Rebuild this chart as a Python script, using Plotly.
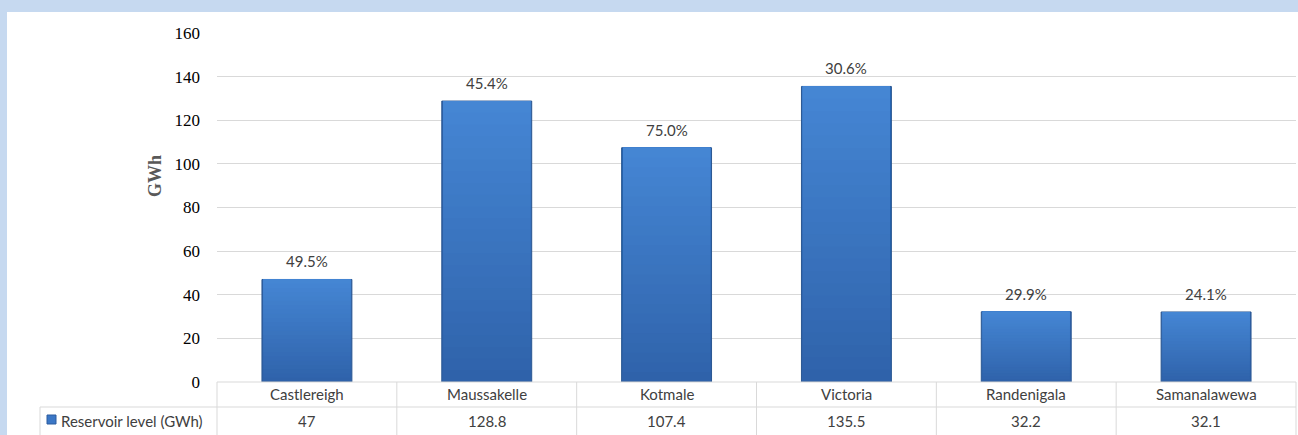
import plotly.graph_objects as go

categories = ["Castlereigh", "Maussakelle", "Kotmale", "Victoria", "Randenigala", "Samanalawewa"]
reservoir_gwh = [47, 128.8, 107.4, 135.5, 32.2, 32.1]
table_values = ["47", "128.8", "107.4", "135.5", "32.2", "32.1"]
percent_labels = ["49.5%", "45.4%", "75.0%", "30.6%", "29.9%", "24.1%"]
series_name = "Reservoir level (GWh)"
y_ticks = [0, 20, 40, 60, 80, 100, 120, 140, 160]

W, H = 1298, 435
L, R, T, B = 217, 2, 33, 53
pw = W - L - R
ph = H - T - B

def px2x(px):
    return (px - L) / pw

def py2y(py):
    return (H - B - py) / ph

txt_font = dict(family="Lato, Calibri, sans-serif", size=15, color="#404040")
grid = "#d9d9d9"

def mix(c1, c2, t):
    a = [int(c1[i:i + 2], 16) for i in (1, 3, 5)]
    b = [int(c2[i:i + 2], 16) for i in (1, 3, 5)]
    return "#" + "".join("%02x" % round(a[k] + (b[k] - a[k]) * t) for k in range(3))

fig = go.Figure()
fig.add_trace(go.Bar(
    x=categories, y=reservoir_gwh, width=0.5,
    marker=dict(color="#2f62aa", line=dict(color="#2a5792", width=1)),
    name=series_name, showlegend=False, hoverinfo="skip",
))
N = 24
for k in range(1, N):
    f = k / N
    fig.add_trace(go.Bar(
        x=categories, y=[v * (1 - f) for v in reservoir_gwh],
        base=[v * f for v in reservoir_gwh], width=0.485,
        marker=dict(color=mix("#2f63ab", "#4687d5", f), line=dict(width=0)),
        showlegend=False, hoverinfo="skip",
    ))

shapes = []
shapes.append(dict(type="rect", xref="paper", yref="paper", layer="below",
                   x0=px2x(7), x1=px2x(W + 5), y0=py2y(H + 5), y1=py2y(12),
                   fillcolor="white", line=dict(width=0)))
ytop = py2y(H - B)
ymid = py2y(407)
ybot = py2y(H + 5)
shapes.append(dict(type="line", xref="paper", yref="paper", x0=px2x(217), x1=px2x(1296),
                   y0=ytop, y1=ytop, line=dict(color=grid, width=1)))
shapes.append(dict(type="line", xref="paper", yref="paper", x0=px2x(40), x1=px2x(1296),
                   y0=ymid, y1=ymid, line=dict(color=grid, width=1)))
shapes.append(dict(type="line", xref="paper", yref="paper", x0=px2x(40), x1=px2x(40),
                   y0=ymid, y1=ybot, line=dict(color=grid, width=1)))
for i in range(len(categories) + 1):
    xp = i / len(categories)
    shapes.append(dict(type="line", xref="paper", yref="paper", x0=xp, x1=xp,
                       y0=ytop, y1=ybot, line=dict(color=grid, width=1)))
shapes.append(dict(type="rect", xref="paper", yref="paper",
                   x0=px2x(47), x1=px2x(56), y0=py2y(424), y1=py2y(415),
                   fillcolor="#3b77c6", line=dict(color="#2c5d9f", width=1)))

annotations = []
for i, c in enumerate(categories):
    xc = (i + 0.5) / len(categories)
    annotations.append(dict(x=xc, y=py2y(394), xref="paper", yref="paper", text=c,
                            showarrow=False, font=txt_font, xanchor="center", yanchor="middle"))
    annotations.append(dict(x=xc, y=py2y(421), xref="paper", yref="paper", text=table_values[i],
                            showarrow=False, font=txt_font, xanchor="center", yanchor="middle"))
    annotations.append(dict(x=c, y=reservoir_gwh[i], xref="x", yref="y", text=percent_labels[i],
                            showarrow=False, font=txt_font, xanchor="center", yanchor="bottom",
                            yshift=7))
annotations.append(dict(x=px2x(59), y=py2y(421), xref="paper", yref="paper", text=series_name,
                        showarrow=False, font=txt_font, xanchor="left", yanchor="middle"))
annotations.append(dict(x=px2x(155), y=py2y(176), xref="paper", yref="paper", text="<b>GWh</b>",
                        showarrow=False, textangle=-90,
                        font=dict(family="Liberation Serif, Cambria, serif", size=18, color="#595959"),
                        xanchor="center", yanchor="middle"))

fig.update_layout(
    width=W, height=H,
    margin=dict(l=L, r=R, t=T, b=B),
    paper_bgcolor="#c6d9f0", plot_bgcolor="white",
    barmode="overlay", bargap=0.5,
    showlegend=False,
    shapes=shapes, annotations=annotations,
    xaxis=dict(showticklabels=False, showgrid=False, zeroline=False, showline=False,
               range=[-0.5, len(categories) - 0.5], fixedrange=True),
    yaxis=dict(range=[0, 160], tickvals=y_ticks, showgrid=True, gridcolor=grid, gridwidth=1,
               zeroline=False, showline=False, ticks="", ticklabelstandoff=16,
               tickfont=dict(family="Liberation Serif, Cambria, serif", size=17, color="#000000"),
               fixedrange=True),
)

fig.write_html(
    "out.html",
    config={"displayModeBar": False},
    post_script="document.body.style.margin='0';document.body.style.overflow='hidden';",
)
